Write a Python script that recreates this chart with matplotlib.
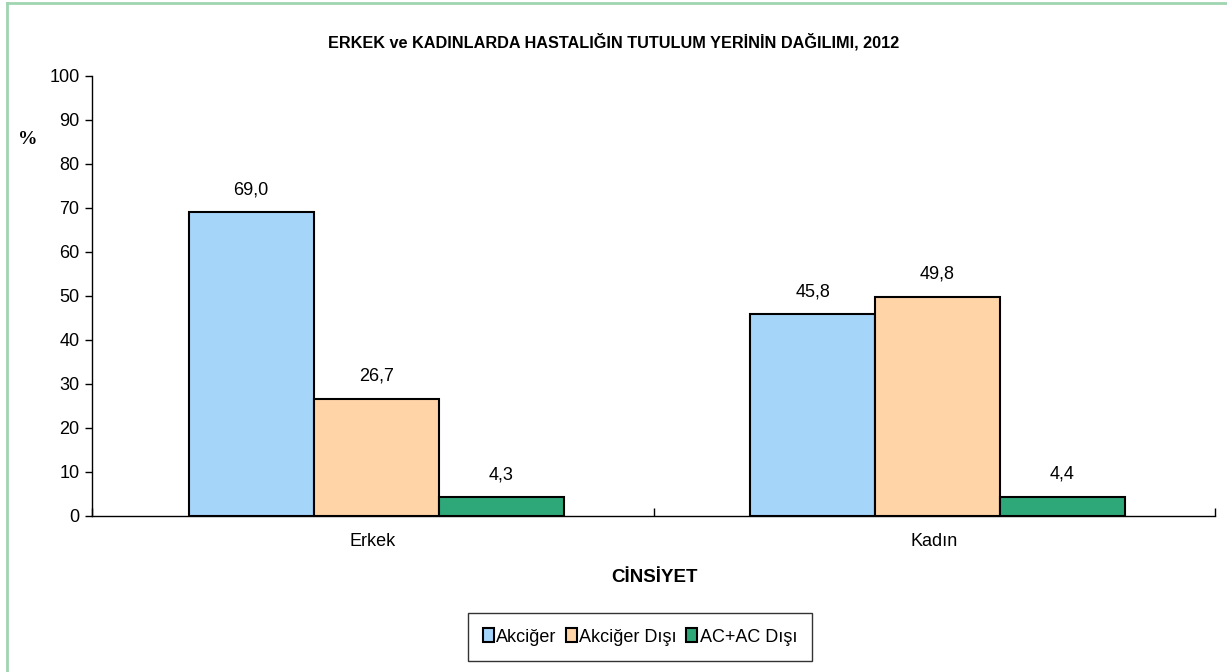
import matplotlib
matplotlib.use("Agg")
import matplotlib.pyplot as plt
from matplotlib.patches import Patch
from matplotlib.lines import Line2D
import numpy as np

categories = ["Erkek", "Kadın"]
series_names = ["Akciğer", "Akciğer Dışı", "AC+AC Dışı"]
akciger = [69.0, 45.8]
akciger_disi = [26.7, 49.8]
ac_ac_disi = [4.3, 4.4]
colors = ["#A6D5FA", "#FFD5A8", "#2EA879"]
yticks = [0, 10, 20, 30, 40, 50, 60, 70, 80, 90, 100]

W, H = 1227, 672
fig = plt.figure(figsize=(W / 100, H / 100), dpi=100)
font = ["Liberation Sans Narrow", "Liberation Sans", "DejaVu Sans"]
plt.rcParams["font.family"] = font

# green frame (only top and left edges visible)
fig.add_artist(Line2D([7 / W, 1.5], [1 - 3 / H, 1 - 3 / H], transform=fig.transFigure,
                      color="#9FD5B0", linewidth=2))
fig.add_artist(Line2D([7 / W, 7 / W], [-0.5, 1 - 3 / H], transform=fig.transFigure,
                      color="#9FD5B0", linewidth=2))

ax = fig.add_axes([92 / W, 1 - 516 / H, (1215 - 92) / W, (516 - 76) / H])
x = np.arange(len(categories))
bw = 0.2225
shift = 0.006
series = [akciger, akciger_disi, ac_ac_disi]
for i, (vals, c, name) in enumerate(zip(series, colors, series_names)):
    pos = x + (i - 1) * bw + shift
    bars = ax.bar(pos, vals, width=bw, color=c, edgecolor="black", linewidth=1.5, label=name)
    for b, v in zip(bars, vals):
        ax.text(b.get_x() + b.get_width() / 2, v + 3.2, f"{v:.1f}".replace(".", ","),
                ha="center", va="bottom", fontsize=13)

ax.set_xlim(-0.5, 1.5)
ax.set_ylim(0, 100)
ax.set_yticks(yticks)
ax.set_yticklabels([str(t) for t in yticks], fontsize=13)
ax.set_xticks([-0.5, 0.5, 1.5], minor=False)
ax.set_xticklabels([])
ax.set_xticks(x, minor=True)
ax.set_xticklabels(categories, minor=True, fontsize=13)
ax.tick_params(axis="x", which="minor", length=0, pad=12)
ax.tick_params(axis="x", which="major", length=6, direction="in", width=1)
ax.tick_params(axis="y", length=5, direction="out", width=1, pad=4)
for s in ["top", "right"]:
    ax.spines[s].set_visible(False)
ax.spines["left"].set_linewidth(1)
ax.spines["bottom"].set_linewidth(1)

fig.text(614 / W, 1 - 42 / H, "ERKEK ve KADINLARDA HASTALIĞIN TUTULUM YERİNİN DAĞILIMI, 2012",
         ha="center", va="center", fontsize=11.7, fontweight="bold")
fig.text(28 / W, 1 - 140 / H, "%", ha="center", va="center", fontsize=14,
         fontweight="bold", family=["Liberation Serif", "DejaVu Serif"])
fig.text(654 / W, 1 - 577 / H, "CİNSİYET", ha="center", va="center", fontsize=13.5, fontweight="bold")

handles = [Patch(facecolor=c, edgecolor="black", linewidth=1.5) for c in colors]
leg = fig.legend(handles, series_names, loc="center", bbox_to_anchor=(640 / W, 1 - 637 / H),
                 ncol=3, fontsize=13, frameon=True, fancybox=False, handlelength=0.6,
                 handleheight=0.8, handletextpad=0.15, columnspacing=0.5,
                 borderpad=0.85, borderaxespad=0, edgecolor="black")
leg.get_frame().set_linewidth(1)

fig.savefig("out.png", dpi=100, facecolor="white")
